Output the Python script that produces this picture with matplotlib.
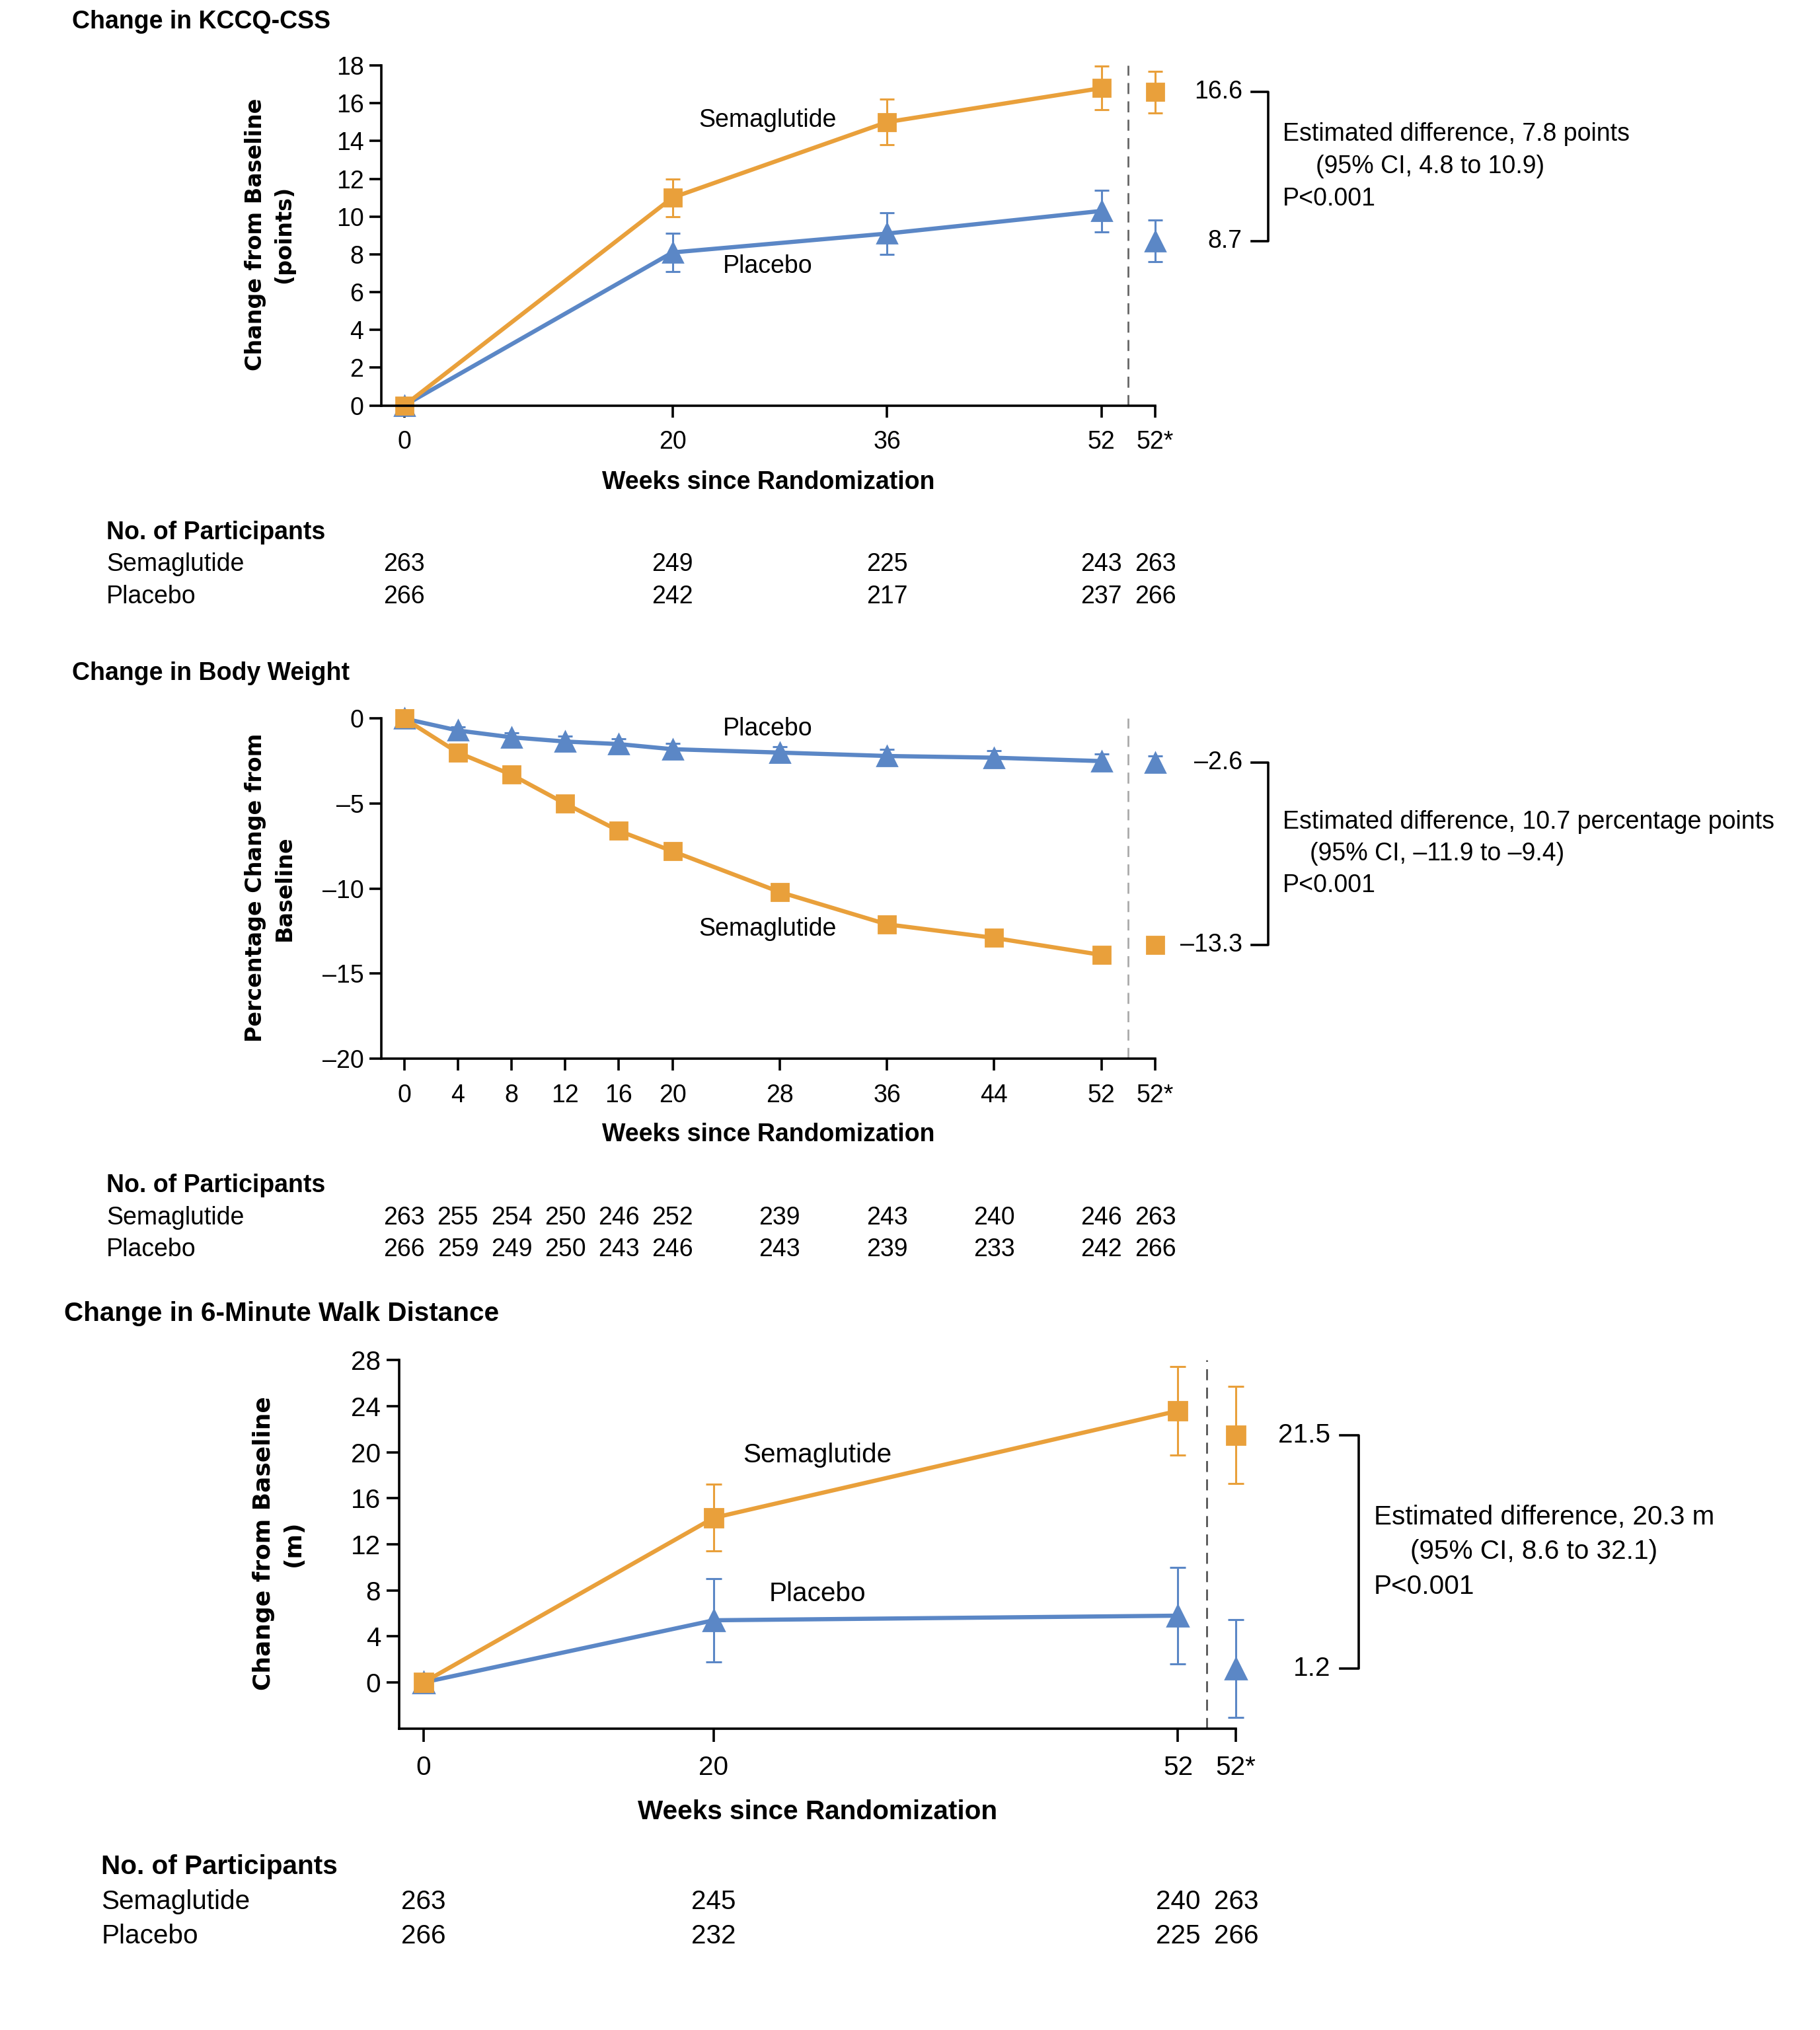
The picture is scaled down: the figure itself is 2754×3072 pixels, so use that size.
import matplotlib
matplotlib.use("Agg")
import matplotlib.pyplot as plt
from matplotlib.transforms import blended_transform_factory

plt.rcParams['font.family'] = ['Liberation Sans', 'DejaVu Sans']

ORANGE = '#E9A03B'
BLUE = '#5B87C6'

# ---- KCCQ-CSS ----
kccq_weeks = [0, 20, 36, 52]
kccq_sema = [0, 11.0, 15.0, 16.8]
kccq_sema_err = [0, 1.0, 1.2, 1.15]
kccq_plac = [0, 8.1, 9.1, 10.3]
kccq_plac_err = [0, 1.0, 1.1, 1.1]
kccq_final = [16.6, 8.7]          # semaglutide, placebo at 52*
kccq_final_err = [1.1, 1.1]
kccq_n_weeks = [0, 20, 36, 52, 56]
kccq_n_sema = [263, 249, 225, 243, 263]
kccq_n_plac = [266, 242, 217, 237, 266]

# ---- Body weight ----
bw_weeks = [0, 4, 8, 12, 16, 20, 28, 36, 44, 52]
bw_sema = [0, -2.0, -3.3, -5.0, -6.6, -7.8, -10.2, -12.1, -12.9, -13.9]
bw_sema_err = [0, 0.3, 0.3, 0.35, 0.35, 0.35, 0.4, 0.4, 0.4, 0.4]
bw_plac = [0, -0.7, -1.1, -1.35, -1.5, -1.8, -2.0, -2.2, -2.3, -2.5]
bw_plac_err = [0, 0.2, 0.25, 0.3, 0.3, 0.35, 0.35, 0.4, 0.4, 0.4]
bw_final = [-13.3, -2.6]
bw_final_err = [0.4, 0.4]
bw_n_weeks = [0, 4, 8, 12, 16, 20, 28, 36, 44, 52, 56]
bw_n_sema = [263, 255, 254, 250, 246, 252, 239, 243, 240, 246, 263]
bw_n_plac = [266, 259, 249, 250, 243, 246, 243, 239, 233, 242, 266]

# ---- 6-minute walk ----
walk_weeks = [0, 20, 52]
walk_sema = [0, 14.3, 23.6]
walk_sema_err = [0, 2.9, 3.85]
walk_plac = [0, 5.4, 5.8]
walk_plac_err = [0, 3.6, 4.2]
walk_final = [21.5, 1.2]
walk_final_err = [4.2, 4.25]
walk_n_weeks = [0, 20, 52, 56]
walk_n_sema = [263, 245, 240, 263]
walk_n_plac = [266, 232, 225, 266]

W, H = 1418.0, 1582.0
FS = 13.5
fig = plt.figure(figsize=(13.77, 15.36), dpi=200)


def rect(x0, y_top, x1, y_bot):
    return [x0 / W, 1 - y_bot / H, (x1 - x0) / W, (y_bot - y_top) / H]


def draw_panel(ax, weeks, sema, sema_err, plac, plac_err, final, final_err,
               xticks, xticklabels, xlim, ylim, yticks, yticklabels,
               dash_color, scale=1.0):
    kw = dict(lw=2.3, elinewidth=1.1, capsize=4 * scale, capthick=1.1, clip_on=False)
    ax.errorbar(weeks, plac, yerr=plac_err, color=BLUE, marker='^', ms=10.5 * scale, **kw)
    ax.errorbar(weeks, sema, yerr=sema_err, color=ORANGE, marker='s', ms=9.5 * scale, **kw)
    ax.errorbar([56], [final[1]], yerr=[final_err[1]], color=BLUE, marker='^',
                ms=10.5 * scale, ls='none', **kw)
    ax.errorbar([56], [final[0]], yerr=[final_err[0]], color=ORANGE, marker='s',
                ms=9.5 * scale, ls='none', **kw)
    ax.axvline(54, color=dash_color, lw=1.0, ls=(0, (6, 4)), zorder=0)

    ax.set_xlim(*xlim)
    ax.set_ylim(*ylim)
    ax.set_xticks(xticks)
    ax.set_xticklabels(xticklabels)
    ax.set_yticks(yticks)
    ax.set_yticklabels(yticklabels)
    for s in ['top', 'right']:
        ax.spines[s].set_visible(False)
    for s in ['left', 'bottom']:
        ax.spines[s].set_linewidth(1.3)
    ax.tick_params(direction='out', length=6.5 * scale, width=1.3,
                   labelsize=FS * scale)
    ax.tick_params(axis='x', pad=7 * scale)
    ax.tick_params(axis='y', pad=3)
    ax.patch.set_visible(False)


def draw_bracket(ax, final, fmt, lines, indent, spacing, scale=1.0):
    ax.plot([63.2, 64.45, 64.45, 63.2], [final[0], final[0], final[1], final[1]],
            color='black', lw=1.3, clip_on=False)
    for v in final:
        ax.text(62.5, v, fmt(v), ha='right', va='center', fontsize=FS * scale)
    mid = (final[0] + final[1]) / 2
    offs = [spacing, 0, -spacing]
    inds = [0, indent, 0]
    for line, dy, dx in zip(lines, offs, inds):
        ax.annotate(line, (65.5, mid), xytext=(dx, dy), textcoords='offset points',
                    ha='left', va='center', fontsize=FS * scale, annotation_clip=False)


def draw_table(ax, x_label, y_head, weeks, n_sema, n_plac, scale=1.0):
    tr = blended_transform_factory(ax.transData, fig.transFigure)
    fig.text(x_label / W, 1 - y_head / H, 'No. of Participants', fontsize=FS * scale,
             fontweight='bold', va='center')
    rows = [('Semaglutide', n_sema), ('Placebo', n_plac)]
    for i, (name, vals) in enumerate(rows):
        y = 1 - (y_head + (25 + i * 25) * scale) / H
        fig.text(x_label / W, y, name, fontsize=FS * scale, va='center')
        for wk, n in zip(weeks, vals):
            ax.text(wk, y, str(n), transform=tr, ha='center', va='center',
                    fontsize=FS * scale)


def axis_labels(ax, ylabel, y_axes_lab, scale=1.0):
    ax.set_xlabel('Weeks since Randomization', fontsize=FS * scale, fontweight='bold')
    ax.xaxis.set_label_coords(0.5, y_axes_lab)
    ax.xaxis.label.set_va('center')
    ax.set_ylabel(ylabel, fontsize=12 * scale, fontweight='bold',
                  family=['DejaVu Sans'], linespacing=1.4)
    ax.yaxis.set_label_coords(-0.144, 0.502)
    ax.yaxis.label.set_va('center')


minus = '\u2013'

# ---------------- Panel 1 ----------------
ax1 = fig.add_axes(rect(297, 51, 900, 316))
draw_panel(ax1, kccq_weeks, kccq_sema, kccq_sema_err, kccq_plac, kccq_plac_err,
           kccq_final, kccq_final_err, [0, 20, 36, 52, 56], ['0', '20', '36', '52', '52*'],
           (-1.72, 56), (0, 18), list(range(0, 19, 2)), [str(v) for v in range(0, 19, 2)],
           '#666666')
ax1.text(27.1, 15.1, 'Semaglutide', ha='center', va='center', fontsize=FS)
ax1.text(27.1, 7.35, 'Placebo', ha='center', va='center', fontsize=FS)
draw_bracket(ax1, kccq_final, lambda v: f'{v:.1f}',
             ['Estimated difference, 7.8 points', '(95% CI, 4.8 to 10.9)', 'P<0.001'],
             18, 17.5)
axis_labels(ax1, 'Change from Baseline\n(points)', (316 - 376) / 265)
fig.text(56 / W, 1 - 17 / H, 'Change in KCCQ-CSS', fontsize=FS, fontweight='bold',
         va='center')
draw_table(ax1, 83, 415, kccq_n_weeks, kccq_n_sema, kccq_n_plac)

# ---------------- Panel 2 ----------------
ax2 = fig.add_axes(rect(297, 560, 900, 825))
draw_panel(ax2, bw_weeks, bw_sema, bw_sema_err, bw_plac, bw_plac_err,
           bw_final, bw_final_err, bw_n_weeks,
           [str(w) for w in bw_n_weeks[:-1]] + ['52*'],
           (-1.72, 56), (-20, 0), [0, -5, -10, -15, -20],
           ['0', minus + '5', minus + '10', minus + '15', minus + '20'],
           '#aaaaaa')
ax2.text(27.1, -0.6, 'Placebo', ha='center', va='center', fontsize=FS)
ax2.text(27.1, -12.4, 'Semaglutide', ha='center', va='center', fontsize=FS)
draw_bracket(ax2, bw_final, lambda v: f'{v:.1f}'.replace('-', minus),
             ['Estimated difference, 10.7 percentage points',
              f'(95% CI, {minus}11.9 to {minus}9.4)', 'P<0.001'],
             15, 17.3)
axis_labels(ax2, 'Percentage Change from\nBaseline', (825 - 884) / 265)
fig.text(56 / W, 1 - 525 / H, 'Change in Body Weight', fontsize=FS, fontweight='bold',
         va='center')
draw_table(ax2, 83, 924, bw_n_weeks, bw_n_sema, bw_n_plac)

# ---------------- Panel 3 ----------------
s3 = 1.08
ax3 = fig.add_axes(rect(311, 1060, 963, 1347))
draw_panel(ax3, walk_weeks, walk_sema, walk_sema_err, walk_plac, walk_plac_err,
           walk_final, walk_final_err, walk_n_weeks, ['0', '20', '52', '52*'],
           (-1.68, 56), (-4, 28), list(range(0, 29, 4)), [str(v) for v in range(0, 29, 4)],
           '#555555', scale=s3)
ax3.text(27.15, 19.75, 'Semaglutide', ha='center', va='center', fontsize=FS * s3)
ax3.text(27.15, 7.7, 'Placebo', ha='center', va='center', fontsize=FS * s3)
draw_bracket(ax3, walk_final, lambda v: f'{v:.1f}',
             ['Estimated difference, 20.3 m', '(95% CI, 8.6 to 32.1)', 'P<0.001'],
             20, 19, scale=s3)
axis_labels(ax3, 'Change from Baseline\n(m)', (1347 - 1412) / 287, scale=s3)
fig.text(50 / W, 1 - 1024 / H, 'Change in 6-Minute Walk Distance', fontsize=FS * s3,
         fontweight='bold', va='center')
draw_table(ax3, 79, 1455, walk_n_weeks, walk_n_sema, walk_n_plac, scale=s3)

fig.savefig('out.png', dpi=200, facecolor='white')
